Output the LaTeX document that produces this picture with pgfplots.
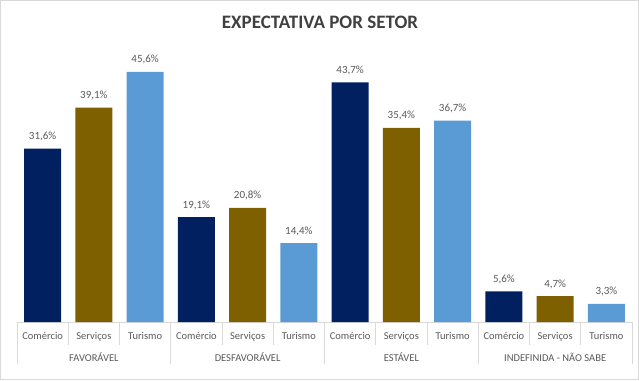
\documentclass[border=0pt]{standalone}
\usepackage{pgfplots}
\pgfplotsset{compat=1.18}
\usepackage{fontspec}
\setmainfont{Carlito}
\definecolor{cnavy}{HTML}{002060}
\definecolor{colive}{HTML}{7F6000}
\definecolor{clblue}{HTML}{5B9BD5}
\definecolor{txt}{HTML}{595959}
\definecolor{ttl}{HTML}{404040}
\definecolor{grid}{HTML}{D9D9D9}
\begin{document}
\begin{tikzpicture}
\useasboundingbox (0pt,0pt) rectangle (639pt,380pt);
\draw[grid,line width=0.8pt] (0.5pt,0.5pt) rectangle (638.5pt,379.5pt);
\node[font=\fontsize{19}{20}\selectfont\bfseries, text=ttl] at (320pt,358pt) {EXPECTATIVA POR SETOR};
\begin{axis}[
  at={(17pt,58pt)}, anchor=south west,
  scale only axis, width=615pt, height=277pt,
  ybar, bar width=37pt,
  xmin=-0.5, xmax=11.5, ymin=0, ymax=50.5,
  enlargelimits=false, clip=false,
  axis y line=none,
  axis x line*=bottom,
  x axis line style={-, grid, line width=0.8pt},
  xtick={0,...,11},
  xticklabels={Comércio,Serviços,Turismo,Comércio,Serviços,Turismo,Comércio,Serviços,Turismo,Comércio,Serviços,Turismo},
  major tick length=0pt,
  xticklabel style={font=\fontsize{10.5}{12}\selectfont, text=txt, yshift=-7pt},
  nodes near coords={\pgfmathprintnumber[fixed,fixed zerofill,precision=1,use comma,assume math mode=true]{\pgfplotspointmeta}\%},
  every node near coord/.append style={font=\fontsize{11}{12}\selectfont, text=txt, yshift=4pt},
]
\addplot[fill=cnavy, draw=none, bar shift=0pt] coordinates {(0,31.6) (3,19.1) (6,43.7) (9,5.6)};
\addplot[fill=colive, draw=none, bar shift=0pt] coordinates {(1,39.1) (4,20.8) (7,35.4) (10,4.7)};
\addplot[fill=clblue, draw=none, bar shift=0pt] coordinates {(2,45.6) (5,14.4) (8,36.7) (11,3.3)};
\pgfplotsinvokeforeach{0.5,1.5,3.5,4.5,6.5,7.5,9.5,10.5}{
  \draw[grid, line width=0.8pt] (axis cs:#1,0) -- ++(0pt,-23pt);
}
\pgfplotsinvokeforeach{-0.5,2.5,5.5,8.5,11.5}{
  \draw[grid, line width=0.8pt] (axis cs:#1,0) -- ++(0pt,-42pt);
}
\node[font=\fontsize{10.5}{12}\selectfont, text=txt] at (axis cs:1,0) [yshift=-35pt] {FAVORÁVEL};
\node[font=\fontsize{10.5}{12}\selectfont, text=txt] at (axis cs:4,0) [yshift=-35pt] {DESFAVORÁVEL};
\node[font=\fontsize{10.5}{12}\selectfont, text=txt] at (axis cs:7,0) [yshift=-35pt] {ESTÁVEL};
\node[font=\fontsize{10.5}{12}\selectfont, text=txt] at (axis cs:10,0) [yshift=-35pt] {INDEFINIDA - NÃO SABE};
\end{axis}
\end{tikzpicture}
\end{document}
